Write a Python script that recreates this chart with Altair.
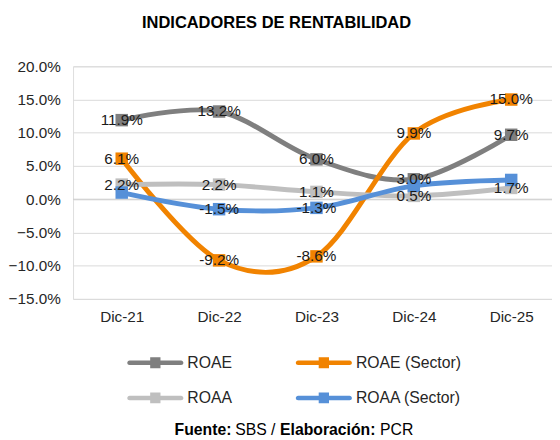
import altair as alt
import pandas as pd

# ---------------- data ----------------
title_text = "INDICADORES DE RENTABILIDAD"
periods = ["Dic-21", "Dic-22", "Dic-23", "Dic-24", "Dic-25"]
series_names = ["ROAE", "ROAE (Sector)", "ROAA", "ROAA (Sector)"]
roae = [11.9, 13.2, 6.0, 3.0, 9.7]
roae_sector = [6.1, -9.2, -8.6, 9.9, 15.0]
roaa = [2.2, 2.2, 1.1, 0.5, 1.7]
roaa_sector = [1.0, -1.5, -1.3, 2.0, 2.9]
# which points carry a visible data label in the reference
roae_lbl = [1, 1, 1, 1, 1]
roae_sector_lbl = [1, 1, 1, 1, 1]
roaa_lbl = [1, 1, 1, 1, 1]
roaa_sector_lbl = [0, 1, 1, 0, 0]
y_ticks = [-15, -10, -5, 0, 5, 10, 15, 20]
footer_parts = ["Fuente:", "SBS /", "Elaboración:", "PCR"]

series_colors = {"ROAE": "#7f7f7f", "ROAE (Sector)": "#f18300",
                 "ROAA": "#bfbfbf", "ROAA (Sector)": "#5690d8"}
# legend fills column by column: ROAE/ROAA on the left, sector series on the right
legend_order = ["ROAE", "ROAA", "ROAE (Sector)", "ROAA (Sector)"]
FONT = "Liberation Sans"

values = [roae, roae_sector, roaa, roaa_sector]
flags = [roae_lbl, roae_sector_lbl, roaa_lbl, roaa_sector_lbl]
rows = []
for s, vals, fl in zip(series_names, values, flags):
    for p, v, f in zip(periods, vals, fl):
        rows.append({"series": s, "period": p, "value": v,
                     "label": f"{v:.1f}%" if f else ""})
df = pd.DataFrame(rows)

W, H = 486, 236
x_enc = alt.X("period:O", scale=alt.Scale(type="point", domain=periods, range=[0, 494], padding=0.5),
              axis=alt.Axis(title=None, domain=False, ticks=False, labelAngle=0,
                            labelFont=FONT, labelFontSize=15.5, labelColor="#262626",
                            labelPadding=11))
y_axis = alt.Axis(title=None, values=y_ticks, domain=False, ticks=False,
                  labelExpr="format(datum.value, '.1f') + '%'",
                  labelFont=FONT, labelFontSize=15.5, labelColor="#262626",
                  labelPadding=13, grid=True, gridColor="#d9d9d9", gridWidth=1)
y_scale = alt.Scale(domain=[-15, 20], nice=False, zero=False)
y_enc = alt.Y("value:Q", scale=y_scale, axis=y_axis)

legend_path = ("M-0.95,-0.085 A0.085,0.085 0 0,0 -0.95,0.085 L0.95,0.085 A0.085,0.085 0 0,0 0.95,-0.085 Z "
               "M-0.19,-0.2 L-0.19,0.2 L0.19,0.2 L0.19,-0.2 Z")
legend = alt.Legend(title=None, orient="none", legendX=56, legendY=273,
                    columns=2, columnPadding=64, rowPadding=-7,
                    symbolType=legend_path, symbolSize=3025,
                    symbolStrokeWidth=0, symbolOpacity=1,
                    labelFont=FONT, labelFontSize=16, labelColor="#262626",
                    labelOffset=5, labelLimit=200)
color_scale = alt.Scale(domain=legend_order, range=[series_colors[s] for s in legend_order])
fill_enc = alt.Fill("series:N", scale=color_scale, legend=legend)
stroke_enc = alt.Stroke("series:N", scale=color_scale, legend=legend)

base = alt.Chart(df)
zero_rule = alt.Chart(pd.DataFrame({"value": [0]})).mark_rule(color="#cccccc", strokeWidth=1).encode(
    y=y_enc)

layers = [zero_rule]
for s in series_names:
    sub = base.transform_filter(alt.datum.series == s)
    layers.append(sub.mark_line(interpolate="cardinal", tension=0, strokeWidth=5, strokeCap="round").encode(
        x=x_enc, y=y_enc, stroke=stroke_enc))
    layers.append(sub.mark_point(shape="square", filled=True, size=160, opacity=1).encode(
        x=x_enc, y=y_enc, fill=fill_enc))

labels = base.transform_filter(alt.datum.label != "").mark_text(
    font=FONT, fontSize=15.5, color="#1a1a1a", align="center", baseline="middle").encode(
    x=x_enc, y=y_enc, text="label:N")
layers.append(labels)

title = alt.Chart(pd.DataFrame({"t": [title_text]})).mark_text(
    font=FONT, fontSize=16.7, fontWeight="bold", color="#000000", align="center",
    baseline="middle").encode(text="t:N", x=alt.value(206.5), y=alt.value(-44))
layers.append(title)

foot_x = [103, 164.5, 210, 311.5]
foot_w = ["bold", "normal", "bold", "normal"]
for txt, fx, fw in zip(footer_parts, foot_x, foot_w):
    layers.append(alt.Chart(pd.DataFrame({"t": [txt]})).mark_text(
        font=FONT, fontSize=16, fontWeight=fw, color="#000000", align="left",
        baseline="alphabetic").encode(text="t:N", x=alt.value(fx), y=alt.value(374)))

chart = alt.layer(*layers).properties(
    width=W, height=H,
    padding={"left": 66, "top": 56, "right": 0, "bottom": 140},
    autosize=alt.AutoSizeParams(type="none"),
).configure_view(stroke=None).configure(background="white")

chart.save("out.html", embed_options={"renderer": "svg", "actions": False})
